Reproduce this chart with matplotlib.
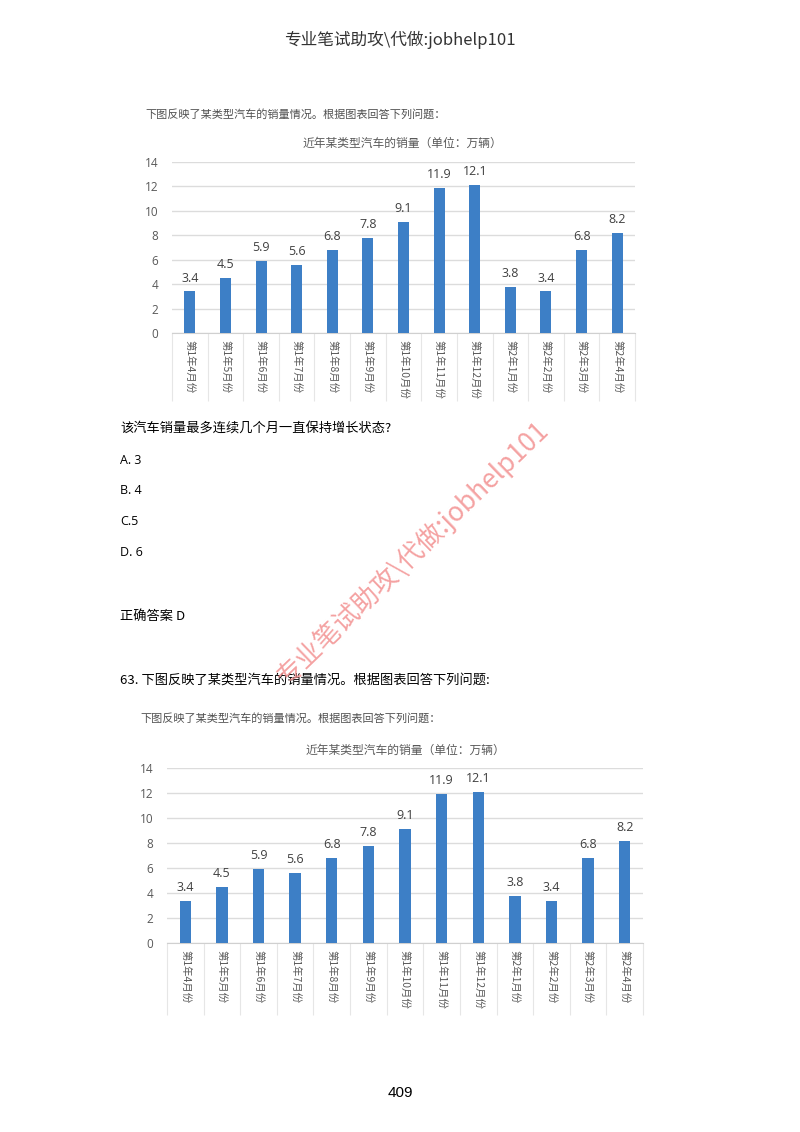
import matplotlib
matplotlib.use("Agg")
import matplotlib.pyplot as plt
import numpy as np

plt.rcParams['font.family'] = ['Noto Sans CJK SC', 'DejaVu Sans']

categories = ["第1年4月份", "第1年5月份", "第1年6月份", "第1年7月份", "第1年8月份",
              "第1年9月份", "第1年10月份", "第1年11月份", "第1年12月份",
              "第2年1月份", "第2年2月份", "第2年3月份", "第2年4月份"]
sales = [3.4, 4.5, 5.9, 5.6, 6.8, 7.8, 9.1, 11.9, 12.1, 3.8, 3.4, 6.8, 8.2]
yticks = [0, 2, 4, 6, 8, 10, 12, 14]
chart_title = "近年某类型汽车的销量（单位：万辆）"
caption = "下图反映了某类型汽车的销量情况。根据图表回答下列问题："

W, H = 800, 1132
fig = plt.figure(figsize=(W / 100, H / 100), dpi=100)
fig.patch.set_facecolor('white')

def fx(px):
    return px / W

def fy(py):
    return 1 - py / H

BAR = '#3d7fc6'
GRID = '#dcdcdc'
TXT = '#595959'

def draw_chart(left, right, y0, y14, ext):
    ax = fig.add_axes([fx(left), fy(y0), (right - left) / W, (y0 - y14) / H])
    x = np.arange(len(categories))
    ax.bar(x, sales, width=0.31, color=BAR, zorder=3)
    for xi, v in zip(x, sales):
        ax.text(xi, v + 0.55, f"{v:g}", ha='center', va='bottom', fontsize=9,
                color='#404040', family=['Open Sans', 'DejaVu Sans'])
    ax.set_xlim(-0.5, len(categories) - 0.5)
    ax.set_ylim(0, 14)
    ax.set_yticks(yticks)
    ax.set_yticklabels([str(t) for t in yticks], fontsize=8.5, color=TXT,
                       family=['Open Sans', 'DejaVu Sans'])
    ax.yaxis.grid(True, color=GRID, linewidth=1.0, zorder=0)
    ax.set_axisbelow(True)
    for s in ['top', 'right', 'left']:
        ax.spines[s].set_visible(False)
    ax.spines['bottom'].set_color('#d0d0d0')
    ax.tick_params(axis='y', length=0, pad=10)
    ax.set_xticks(x)
    ax.set_xticklabels(categories, rotation=-90, fontsize=7.5, color=TXT)
    ax.tick_params(axis='x', length=0, pad=5)
    ax.set_xticks(np.arange(-0.5, len(categories), 1.0), minor=True)
    ax.tick_params(axis='x', which='minor', length=ext * 0.72, color='#e6e6e6', width=0.8)
    ax.set_facecolor('white')
    return ax

# chart 1
draw_chart(172, 635, 333, 162, 68)
fig.text(fx(145), fy(114), caption, fontsize=8, color='#505050', ha='left', va='center')
fig.text(fx(402), fy(143), chart_title, fontsize=8.5, color=TXT, ha='center', va='center')

# chart 2
draw_chart(167, 643, 943, 768, 72)
fig.text(fx(140), fy(718), caption, fontsize=8, color='#505050', ha='left', va='center')
fig.text(fx(405), fy(750), chart_title, fontsize=8.5, color=TXT, ha='center', va='center')

# header
fig.text(0.5, fy(40), "专业笔试助攻\\代做:jobhelp101", fontsize=12, color='#333333',
         ha='center', va='center', family=['Noto Sans CJK SC', 'DejaVu Sans'])

# question text
fig.text(fx(120), fy(428), "该汽车销量最多连续几个月一直保持增长状态?", fontsize=9.5, color='black', ha='left', va='center')
for lbl, yy in [("A. 3", 460), ("B. 4", 491), ("C.5", 522), ("D. 6", 553)]:
    fig.text(fx(120), fy(yy), lbl, fontsize=9, color='black', ha='left', va='center',
             family=['Open Sans', 'DejaVu Sans'])
fig.text(fx(120), fy(616), "正确答案 D", fontsize=9.5, color='black', ha='left', va='center')
fig.text(fx(120), fy(680), "63. 下图反映了某类型汽车的销量情况。根据图表回答下列问题:", fontsize=9.5,
         color='black', ha='left', va='center')

# page number
fig.text(0.5, fy(1093), "409", fontsize=11, color='black', ha='center', va='center',
         family=['Liberation Sans', 'DejaVu Sans'])

# watermark
fig.text(fx(412), fy(553), "专业笔试助攻\\代做:jobhelp101", fontsize=19, color='#f28b8b',
         alpha=0.8, rotation=44, ha='center', va='center', rotation_mode='anchor', zorder=10)

fig.savefig("out.png", dpi=100, facecolor='white')
